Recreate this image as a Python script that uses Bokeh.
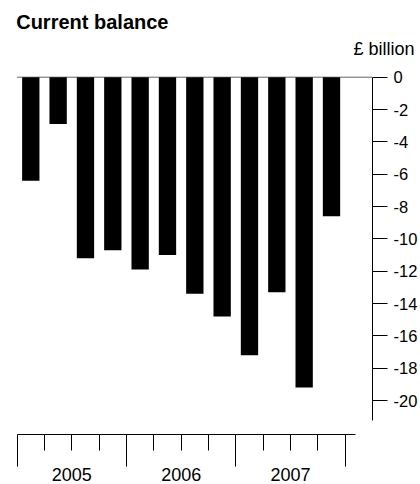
from bokeh.plotting import figure
from bokeh.models import Range1d, FixedTicker, ColumnDataSource
from bokeh.core.properties import value
from bokeh.embed import file_html
from bokeh.resources import INLINE

# ---- data ----
title_text = "Current balance"
unit_text = "£ billion"
quarters = ["2005 Q1", "2005 Q2", "2005 Q3", "2005 Q4",
            "2006 Q1", "2006 Q2", "2006 Q3", "2006 Q4",
            "2007 Q1", "2007 Q2", "2007 Q3", "2007 Q4"]
balance = [-6.4, -2.9, -11.2, -10.7, -11.9, -11.0, -13.4, -14.8, -17.2, -13.3, -19.2, -8.6]
years = ["2005", "2006", "2007"]
y_ticks = [0, -2, -4, -6, -8, -10, -12, -14, -16, -18, -20]
y_tick_labels = ["0", "-2", "-4", "-6", "-8", "-10", "-12", "-14", "-16", "-18", "-20"]

# ---- layout (pixels inside the figure) ----
W, H = 420, 484
FL, FR, FT, FB = 16, 372, 60, 434
n = len(balance)
PX_PER_Q = (FR - FL - 0.63) / (n + 1)     # quarter width in px
X1 = n + 1.5
X0 = X1 - (FR - FL) / PX_PER_Q
ZERO_PX = 76.7
PX_PER_UNIT = 16.165
Y1 = (ZERO_PX - FT) / PX_PER_UNIT
Y0 = -(FB - ZERO_PX) / PX_PER_UNIT
TXT_SHIFT = 8   # text glyph baseline correction (px)


def xd(px):
    return X0 + (px - FL) * (X1 - X0) / (FR - FL)


def yd(py):
    return Y1 - (py - FT) * (Y1 - Y0) / (FB - FT)


FONT = "Liberation Sans"

p = figure(width=W, height=H, x_range=Range1d(X0, X1), y_range=Range1d(Y0, Y1),
           output_backend="svg", toolbar_location=None, y_axis_location="right",
           min_border_left=FL, min_border_right=W - FR,
           min_border_top=FT, min_border_bottom=H - FB)
p.outline_line_color = None
p.xgrid.visible = False
p.ygrid.visible = False
p.background_fill_color = "white"
p.border_fill_color = "white"

# zero line (from the first quarter boundary to the axis)
p.segment(x0=[0.5], y0=[0], x1=[X1], y1=[0], line_color="#666666", line_width=1)

# bars
src = ColumnDataSource(dict(x=list(range(1, n + 1)), q=quarters, v=balance))
p.vbar(x="x", width=0.634, top=0, bottom="v", source=src,
       fill_color="black", line_color=None)

# right axis
ya = p.yaxis[0]
ya.ticker = FixedTicker(ticks=y_ticks, minor_ticks=[])
ya.major_label_overrides = {t: l for t, l in zip(y_ticks, y_tick_labels)}
ya.major_tick_out = 15
ya.major_tick_in = 0
ya.minor_tick_out = 0
ya.minor_tick_in = 0
ya.major_label_standoff = 6
ya.major_label_text_font = FONT
ya.major_label_text_font_size = "16.5px"
ya.major_label_text_color = "black"
ya.axis_line_color = "black"
ya.major_tick_line_color = "black"
ya.bounds = (yd(420), 0)

# bottom time axis
xa = p.xaxis[0]
major_x = [0.5 + 4 * i for i in range(len(years) + 1)]
minor_x = [k + 0.5 for k in range(1, n) if k % 4 != 0]
xa.ticker = FixedTicker(ticks=major_x, minor_ticks=minor_x)
xa.major_label_overrides = {t: "" for t in major_x}
xa.major_label_text_font_size = "1px"
xa.major_tick_out = 32
xa.major_tick_in = 0
xa.minor_tick_out = 16
xa.minor_tick_in = 0
xa.axis_line_color = "black"
xa.major_tick_line_color = "black"
xa.minor_tick_line_color = "black"
xa.bounds = (0.5, xd(355))

# year labels
p.text(x=[4 * i + 2.5 for i in range(len(years))], y=[yd(482 - TXT_SHIFT)] * len(years), text=years,
       text_align="center", text_baseline="alphabetic", text_font=value(FONT),
       text_font_size="18px", text_color="black", level="annotation")

# title and unit
p.text(x=[xd(15.7)], y=[yd(29 - TXT_SHIFT)], text=[title_text], text_align="left",
       text_baseline="alphabetic", text_font=value(FONT), text_font_style="bold",
       text_font_size="20px", text_color="black", level="annotation")
p.text(x=[xd(414)], y=[yd(56 - TXT_SHIFT)], text=[unit_text], text_align="right",
       text_baseline="alphabetic", text_font=value(FONT),
       text_font_size="18px", text_color="black", level="annotation")

open("out.html", "w").write(file_html(p, INLINE))
